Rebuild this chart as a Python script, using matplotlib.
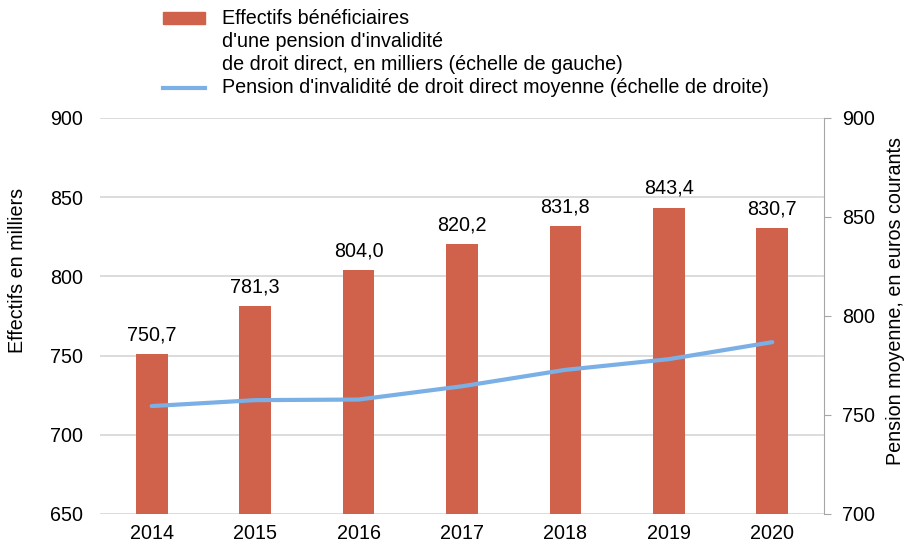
import numpy as np
import matplotlib.pyplot as plt
from matplotlib.patches import Rectangle
from matplotlib.lines import Line2D

plt.rcParams['font.family'] = ['Liberation Sans', 'DejaVu Sans']

# Data
years = ['2014', '2015', '2016', '2017', '2018', '2019', '2020']
effectifs = [750.7, 781.3, 804.0, 820.2, 831.8, 843.4, 830.7]   # left axis, milliers
pension = [754.5, 757.5, 757.8, 764.5, 772.8, 778.2, 786.8]     # right axis, euros
labels = ['750,7', '781,3', '804,0', '820,2', '831,8', '843,4', '830,7']

bar_color = '#D0614B'
line_color = '#7AB0E6'
grid_color = '#D9D9D9'
spine_color = '#A6A6A6'
fs = 14.2

fig = plt.figure(figsize=(9.05, 5.45), dpi=100)
ax = fig.add_axes([0.1105, 0.0569, 0.8, 0.7266])
x = np.arange(len(years))

ax.bar(x, effectifs, width=0.306, color=bar_color, zorder=2)
for xi, v, t in zip(x, effectifs, labels):
    ax.annotate(t, (xi, v), xytext=(0, 7), textcoords='offset points',
                ha='center', va='bottom', fontsize=fs)

ax.set_ylim(650, 900)
ax.set_yticks(np.arange(650, 901, 50))
ax.set_xlim(-0.5, 6.5)
ax.set_xticks(x)
ax.set_xticklabels(years)
ax.grid(axis='y', color=grid_color, lw=1.3, zorder=0)
for s in ['left', 'top', 'right', 'bottom']:
    ax.spines[s].set_visible(False)
ax.tick_params(axis='both', labelsize=fs, length=0)
ax.tick_params(axis='y', pad=12)
ax.tick_params(axis='x', pad=7.5)
ax.set_ylabel('Effectifs en milliers', fontsize=fs)
ax.yaxis.set_label_coords(-0.101, 0.616)

ax2 = ax.twinx()
ax2.plot(x, pension, color=line_color, lw=3, solid_capstyle='round', zorder=3)
ax2.set_ylim(700, 900)
ax2.set_yticks(np.arange(700, 901, 50))
for s in ['left', 'top', 'bottom']:
    ax2.spines[s].set_visible(False)
ax2.spines['right'].set_color(spine_color)
ax2.tick_params(axis='y', labelsize=fs, length=5, color=spine_color, pad=8)
ax2.set_ylabel('Pension moyenne, en euros courants', fontsize=fs)
ax2.yaxis.set_label_coords(1.086, 0.538)

# legend drawn by hand to match layout
W, H = 905, 545
fig.patches.append(Rectangle((163 / W, 1 - 24 / H), 42 / W, 12 / H,
                             transform=fig.transFigure, color=bar_color))
fig.lines.append(Line2D([163 / W, 205 / W], [1 - 88 / H, 1 - 88 / H],
                        transform=fig.transFigure, color=line_color, lw=3))
leg_lines = ['Effectifs bénéficiaires', "d'une pension d'invalidité",
             'de droit direct, en milliers (échelle de gauche)',
             "Pension d'invalidité de droit direct moyenne (échelle de droite)"]
for i, t in enumerate(leg_lines):
    fig.text(222 / W, 1 - (18 + i * 23.3) / H, t, fontsize=fs, va='center', ha='left')

fig.savefig('out.png', dpi=100)
